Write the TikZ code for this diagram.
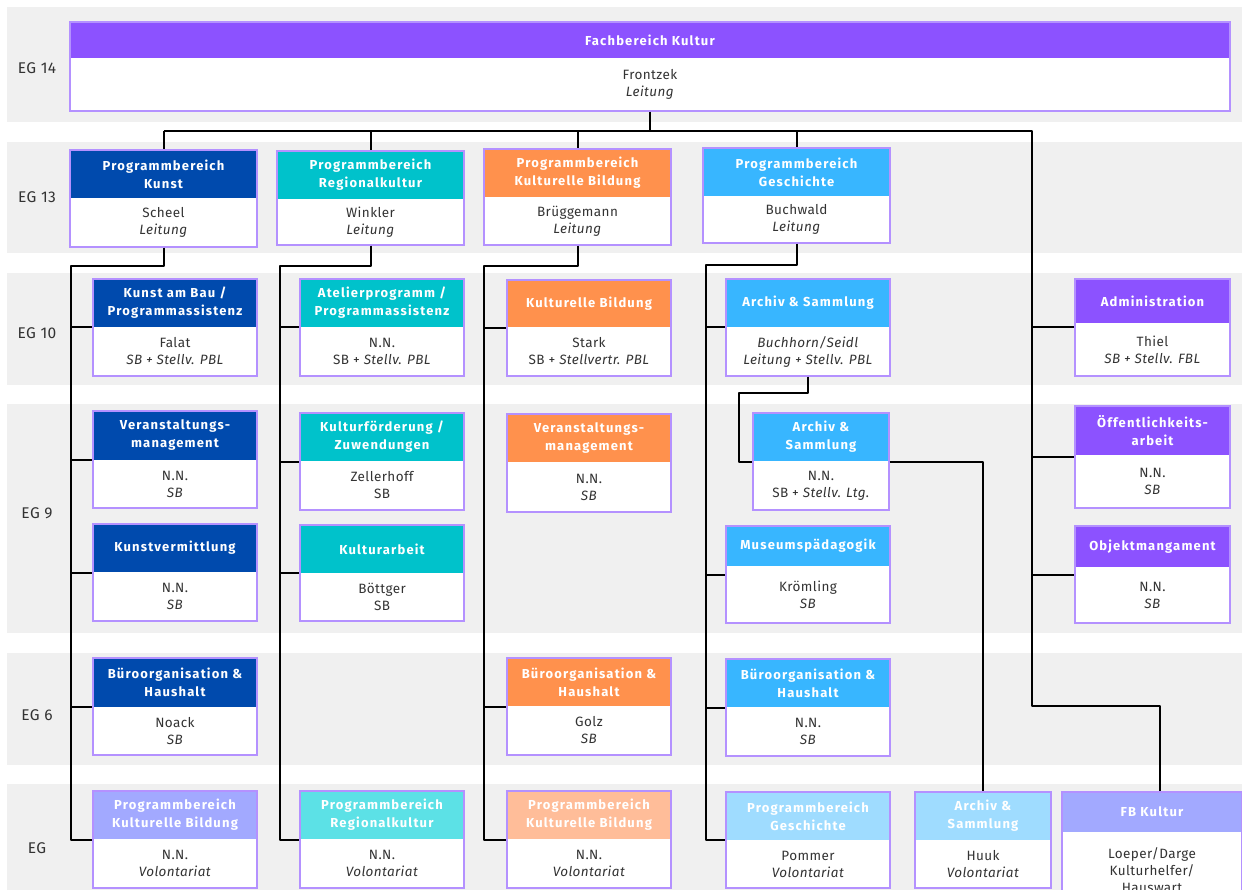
\documentclass[tikz,border=0pt]{standalone}
\usepackage{fontspec}
\setmainfont{Fira Sans}
\newfontfamily\headfont[LetterSpace=9]{Fira Sans}
\newfontfamily\bodyfont[LetterSpace=3]{Fira Sans}
\definecolor{band}{HTML}{F0F0F0}
\definecolor{cpurple}{HTML}{8C52FF}
\definecolor{cdblue}{HTML}{004AAD}
\definecolor{cteal}{HTML}{00C2CB}
\definecolor{corange}{HTML}{FF914D}
\definecolor{clblue}{HTML}{38B6FF}
\definecolor{clav}{HTML}{A2A9FF}
\definecolor{clteal}{HTML}{5CE1E6}
\definecolor{cpeach}{HTML}{FFBD99}
\definecolor{cpale}{HTML}{9FDCFF}
\definecolor{framecol}{HTML}{B491FF}
\definecolor{txtcol}{HTML}{333333}
\tikzset{
  boxframe/.style={rectangle, draw=framecol, fill=white, line width=1.2pt, inner sep=0pt},
  headtxt/.style={text=white, font=\headfont\bfseries\fontsize{13}{18}\selectfont, align=center, inner sep=0pt},
  bodytxt/.style={text=txtcol, font=\bodyfont\fontsize{13.5}{17}\selectfont, align=center, inner sep=0pt},
  eglab/.style={text=txtcol, font=\bodyfont\fontsize{15.5}{17}\selectfont, inner sep=0pt},
  conn/.style={draw=black, line width=2pt, line join=round}
}
\newcommand{\orgbox}[9]{%
  \node[boxframe, minimum width={#4pt-#2pt}, minimum height={#5pt-#3pt}] (#1) at ({(#2+#4)/2},{(#3+#5)/2}) {};
  \fill[#7] (#2,#3) rectangle (#4,#6);
  \draw[framecol, line width=1.2pt] (#2,#3) rectangle (#4,#5);
  \node[headtxt] (#1-h) at ({(#2+#4)/2},{(#3+#6)/2}) {#8};
  \node[bodytxt] (#1-b) at ({(#2+#4)/2},{(#6+#5)/2}) {#9};
}
\begin{document}
\begin{tikzpicture}[x=1pt,y=-1pt]
\useasboundingbox (0,0) rectangle (1242,890);
\clip (0,0) rectangle (1242,890);
% bands
\fill[band] (7,7) rectangle (1242,122);
\fill[band] (7,142) rectangle (1242,253);
\fill[band] (7,273) rectangle (1242,385);
\fill[band] (7,404) rectangle (1242,633);
\fill[band] (7,653) rectangle (1242,765);
\fill[band] (7,784) rectangle (1242,890);
% labels
\node[eglab] (l14) at (37,68) {EG 14};
\node[eglab] (l13) at (37,197) {EG 13};
\node[eglab] (l10) at (37,333) {EG 10};
\node[eglab] (l9) at (37,513) {EG 9};
\node[eglab] (l6) at (37,715) {EG 6};
\node[eglab] (l0) at (37,848) {EG};
% boxes
\orgbox{top}{70}{22}{1230}{111}{58}{cpurple}{Fachbereich Kultur}{Frontzek\\\textit{Leitung}}
\orgbox{pbk}{70}{150}{257}{247}{198}{cdblue}{Programmbereich\\Kunst}{Scheel\\\textit{Leitung}}
\orgbox{pbr}{277}{151}{464}{245}{199}{cteal}{Programmbereich\\Regionalkultur}{Winkler\\\textit{Leitung}}
\orgbox{pbb}{484}{149}{671}{245}{197}{corange}{Programmbereich\\Kulturelle Bildung}{Brüggemann\\\textit{Leitung}}
\orgbox{pbg}{703}{148}{890}{243}{196}{clblue}{Programmbereich\\Geschichte}{Buchwald\\\textit{Leitung}}

\orgbox{kab}{93}{279}{257}{376}{327}{cdblue}{Kunst am Bau /\\Programmassistenz}{Falat\\\textit{SB + Stellv. PBL}}
\orgbox{atp}{300}{279}{464}{376}{327}{cteal}{Atelierprogramm /\\Programmassistenz}{N.N.\\SB + \textit{Stellv. PBL}}
\orgbox{kb}{507}{280}{671}{376}{327}{corange}{Kulturelle Bildung}{Stark\\SB + \textit{Stellvertr. PBL}}
\orgbox{arch}{726}{279}{890}{376}{327}{clblue}{Archiv \& Sammlung}{\textit{Buchhorn/Seidl}\\\textit{Leitung + Stellv. PBL}}
\orgbox{admin}{1075}{279}{1230}{376}{323}{cpurple}{Administration}{Thiel\\\textit{SB + Stellv. FBL}}

\orgbox{vma}{93}{411}{257}{508}{460}{cdblue}{Veranstaltungs-\\management}{N.N.\\\textit{SB}}
\orgbox{kf}{300}{413}{464}{510}{461}{cteal}{Kulturförderung /\\Zuwendungen}{Zellerhoff\\SB}
\orgbox{vmc}{507}{414}{671}{512}{462}{corange}{Veranstaltungs-\\management}{N.N.\\\textit{SB}}
\orgbox{archn}{753}{413}{889}{510}{461}{clblue}{Archiv \&\\Sammlung}{N.N.\\SB + \textit{Stellv. Ltg.}}
\orgbox{oa}{1075}{406}{1230}{508}{455}{cpurple}{Öffentlichkeits-\\arbeit}{N.N.\\\textit{SB}}

\orgbox{kv}{93}{524}{257}{621}{572}{cdblue}{Kunstvermittlung}{N.N.\\\textit{SB}}
\orgbox{ka}{300}{525}{464}{621}{573}{cteal}{Kulturarbeit}{Böttger\\SB}
\orgbox{mp}{726}{526}{890}{623}{566}{clblue}{Museumspädagogik}{Krömling\\\textit{SB}}
\orgbox{om}{1075}{526}{1230}{623}{567}{cpurple}{Objektmangament}{N.N.\\\textit{SB}}

\orgbox{boa}{93}{658}{257}{755}{707}{cdblue}{Büroorganisation \&\\Haushalt}{Noack\\\textit{SB}}
\orgbox{boc}{507}{658}{671}{755}{706}{corange}{Büroorganisation \&\\Haushalt}{Golz\\\textit{SB}}
\orgbox{bod}{726}{659}{890}{756}{707}{clblue}{Büroorganisation \&\\Haushalt}{N.N.\\\textit{SB}}

\orgbox{va}{93}{791}{257}{888}{839}{clav}{Programmbereich\\Kulturelle Bildung}{N.N.\\\textit{Volontariat}}
\orgbox{vb}{300}{791}{464}{888}{839}{clteal}{Programmbereich\\Regionalkultur}{N.N.\\\textit{Volontariat}}
\orgbox{vc}{507}{791}{671}{888}{839}{cpeach}{Programmbereich\\Kulturelle Bildung}{N.N.\\\textit{Volontariat}}
\orgbox{vd}{726}{792}{890}{888}{840}{cpale}{Programmbereich\\Geschichte}{Pommer\\\textit{Volontariat}}
\orgbox{archv}{915}{792}{1051}{888}{840}{cpale}{Archiv \&\\Sammlung}{Huuk\\\textit{Volontariat}}
\orgbox{fbk}{1062}{792}{1242}{908}{832}{clav}{FB Kultur}{Loeper/Darge\\Kulturhelfer/\\Hauswart}

% connectors
\coordinate (bus) at (0,131);
\coordinate (adm) at (1032,131);
\coordinate (fbdrop) at (1160,706);
\draw[conn] (top.south) -- (top.south |- bus);
\draw[conn] (pbk.north |- bus) -- (adm) |- (fbdrop) -- (fbdrop |- fbk.north);
\draw[conn] (pbk.north |- bus) -- (pbk.north);
\draw[conn] (pbr.north |- bus) -- (pbr.north);
\draw[conn] (pbb.north |- bus) -- (pbb.north);
\draw[conn] (pbg.north |- bus) -- (pbg.north);
% column 1
\coordinate (t1) at (71,266);
\draw[conn] (pbk.south) |- (t1) -- (t1 |- va.west) -- (va.west);
\foreach \b in {kab,vma,kv,boa} \draw[conn] (t1 |- \b.west) -- (\b.west);
% column 2
\coordinate (t2) at (280,266);
\draw[conn] (pbr.south) |- (t2) -- (t2 |- vb.west) -- (vb.west);
\foreach \b in {atp,kf,ka} \draw[conn] (t2 |- \b.west) -- (\b.west);
% column 3
\coordinate (t3) at (484,266);
\draw[conn] (pbb.south) |- (t3) -- (t3 |- vc.west) -- (vc.west);
\foreach \b in {kb,boc} \draw[conn] (t3 |- \b.west) -- (\b.west);
% column 4
\coordinate (t4) at (706,265);
\draw[conn] (pbg.south) |- (t4) -- (t4 |- vd.west) -- (vd.west);
\foreach \b in {arch,mp,bod} \draw[conn] (t4 |- \b.west) -- (\b.west);
\coordinate (ak) at (739,393);
\draw[conn] (arch.south) |- (ak) |- (archn.west);
\draw[conn] (archn.east) -| (archv.north);
% column 5
\foreach \b in {admin,oa,om} \draw[conn] (adm |- \b.west) -- (\b.west);
\end{tikzpicture}
\end{document}
